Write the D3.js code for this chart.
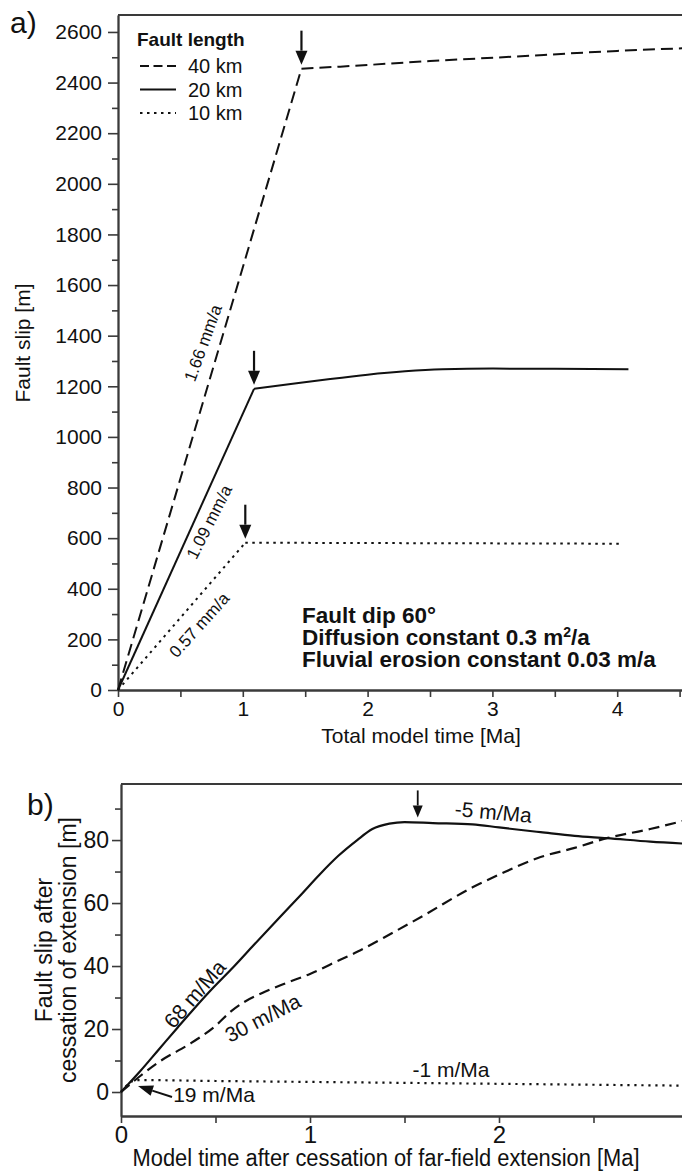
<!DOCTYPE html>
<html>
<head>
<meta charset="utf-8">
<script src="https://cdn.jsdelivr.net/npm/d3@7"></script>
<style>
  body { margin: 0; background: #fff; }
  text { font-family: "Liberation Sans", Arial, sans-serif; fill: #111; }
</style>
</head>
<body>
<svg id="chart" width="682" height="1173"></svg>
<script>
'use strict';

// ---- panel a: fault slip vs total model time ----
const fault40 = [[0, 0], [1.47, 2455], [1.78, 2463], [2.5, 2485], [3.15, 2502], [4.0, 2525], [4.6, 2537]];
const fault20 = [[0, 0], [1.09, 1190], [1.4, 1210], [1.7, 1229], [2.0, 1246], [2.3, 1259], [2.6, 1267], [3.0, 1270], [3.5, 1269], [4.09, 1267]];
const fault10 = [[0, 0], [1.02, 582], [2.5, 580], [4.02, 578]];
const legendLabels = ['40 km', '20 km', '10 km'];
const rateLabelsA = [
    { t: 0.68, v: 1371, angle: -70, text: '1.66 mm/a' },
    { t: 0.73, v: 664, angle: -63, text: '1.09 mm/a' },
    { t: 0.65, v: 257, angle: -48, text: '0.57 mm/a' }
];
const paramLines = ['Fault dip 60°', 'Diffusion constant 0.3 m', 'Fluvial erosion constant 0.03 m/a'];
const yTicksA = d3.range(0, 2601, 200);
const yMinorA = d3.range(100, 2700, 200);
const xTicksA = [0, 1, 2, 3, 4];
const xMinorA = [0.5, 1.5, 2.5, 3.5, 4.5];

// ---- panel b: slip after cessation of extension ----
const postSolid = [[0, 0], [0.1, 6.5], [0.2, 13.5], [0.3, 20.5], [0.47, 32], [0.6, 40], [0.7, 46.5], [0.84, 55.5], [0.95, 62.5],
    [1.05, 69], [1.15, 75], [1.25, 80], [1.33, 83.5], [1.42, 85.2], [1.5, 85.7], [1.65, 85.4], [1.86, 85], [2.0, 84],
    [2.22, 82.5], [2.4, 81.3], [2.57, 80.6], [2.8, 79.5], [3.0, 78.8]];
const postDashed = [[0, 0], [0.1, 5], [0.2, 9.5], [0.37, 15.5], [0.5, 21], [0.58, 25.5], [0.65, 28.5], [0.75, 31.5], [0.87, 34.5],
    [1.0, 37.5], [1.16, 42], [1.25, 44.5], [1.39, 49], [1.6, 56], [1.86, 65], [2.0, 69], [2.22, 74.6], [2.4, 77.5],
    [2.57, 80.6], [2.8, 83.5], [3.0, 86.5]];
const postDotted = [[0, 0], [0.08, 3.8], [0.5, 3.5], [1, 3.2], [1.5, 2.9], [2, 2.6], [2.5, 2.3], [3.0, 2.0]];
const rateLabelsB = [
    { t: 0.39, v: 31.1, angle: -49, text: '68 m/Ma' },
    { t: 0.75, v: 23.5, angle: -27, text: '30 m/Ma' },
    { t: 1.97, v: 88.9, angle: 5, text: '-5 m/Ma' },
    { t: 1.746, v: 7.0, angle: 0, text: '-1 m/Ma' },
    { t: 0.492, v: -0.95, angle: 0, text: '19 m/Ma' }
];
const yTicksB = [0, 20, 40, 60, 80];
const yMinorB = [10, 30, 50, 70, 90];
const xTicksB = [0, 1, 2];
const xMinorB = [0.5, 1.5, 2.5];

const svg = d3.select('#chart');
const ink = '#111';
const axisColor = '#3a3a3a';

function arrow(g, x1, y1, x2, y2, headLen, headW, width) {
    const a = Math.atan2(y2 - y1, x2 - x1);
    const bx = x2 - headLen * Math.cos(a), by = y2 - headLen * Math.sin(a);
    g.append('line')
        .attr('x1', x1).attr('y1', y1).attr('x2', bx).attr('y2', by)
        .attr('stroke', ink).attr('stroke-width', width);
    const nx = -Math.sin(a) * headW / 2, ny = Math.cos(a) * headW / 2;
    g.append('path')
        .attr('d', `M${x2},${y2}L${bx + nx},${by + ny}L${bx - nx},${by - ny}Z`)
        .attr('fill', ink);
}

function styleAxis(sel, size) {
    sel.selectAll('.domain').attr('stroke', axisColor).attr('stroke-width', 1.8);
    sel.selectAll('.tick line').attr('stroke', axisColor).attr('stroke-width', 1.6);
    sel.selectAll('.tick text').attr('fill', ink).style('font-size', size + 'px')
        .style('font-family', '"Liberation Sans", Arial, sans-serif');
}

// =================== panel a ===================
const xA = d3.scaleLinear().domain([0, 4.6]).range([118, 118 + 4.6 * 124.8]);
const yA = d3.scaleLinear().domain([0, 2667]).range([690, 15]);
const gA = svg.append('g');

gA.append('line').attr('x1', 118).attr('x2', 682).attr('y1', 15).attr('y2', 15)
    .attr('stroke', axisColor).attr('stroke-width', 1.8);

gA.append('g').attr('transform', 'translate(118,0)')
    .call(d3.axisLeft(yA).tickValues(yMinorA).tickFormat('').tickSize(6).tickSizeOuter(0))
    .call(s => styleAxis(s, 21));
gA.append('g').attr('transform', 'translate(118,0)')
    .call(d3.axisLeft(yA).tickValues(yTicksA).tickFormat(d3.format('d')).tickSize(10).tickPadding(6).tickSizeOuter(0))
    .call(s => styleAxis(s, 21));
gA.append('g').attr('transform', 'translate(0,690)')
    .call(d3.axisBottom(xA).tickValues(xMinorA).tickFormat('').tickSize(7).tickSizeOuter(0))
    .call(s => styleAxis(s, 21));
gA.append('g').attr('transform', 'translate(0,690)')
    .call(d3.axisBottom(xA).tickValues(xTicksA).tickFormat(d3.format('d')).tickSize(7).tickPadding(4).tickSizeOuter(0))
    .call(s => styleAxis(s, 21));

const lineA = d3.line().x(d => xA(d[0])).y(d => yA(d[1]));
const smoothA = d3.line().x(d => xA(d[0])).y(d => yA(d[1])).curve(d3.curveMonotoneX);
const seriesA = [
    { data: fault40, dash: '12,6' },
    { data: fault20, dash: null },
    { data: fault10, dash: '2.5,4.5' }
];
seriesA.forEach(s => {
    const head = s.data.slice(0, 2);
    const tail = s.data.slice(1);
    [lineA(head), smoothA(tail)].forEach(d => {
        gA.append('path').attr('d', d).attr('fill', 'none')
            .attr('stroke', ink).attr('stroke-width', 2)
            .attr('stroke-dasharray', s.dash);
    });
    const k = s.data[1];
    arrow(gA, xA(k[0]), yA(k[1]) - 38, xA(k[0]), yA(k[1]) - 4, 14, 12, 2.2);
});

rateLabelsA.forEach(l => {
    gA.append('text')
        .attr('transform', `translate(${xA(l.t)},${yA(l.v)}) rotate(${l.angle})`)
        .attr('text-anchor', 'middle').attr('dy', '0.35em')
        .style('font-size', '17px').text(l.text);
});

// legend
gA.append('text').attr('x', 137).attr('y', 46).style('font-size', '19px')
    .style('font-weight', 'bold').text('Fault length');
seriesA.forEach((s, i) => {
    const y = 66 + i * 23.5;
    gA.append('line').attr('x1', 140).attr('x2', 176).attr('y1', y).attr('y2', y)
        .attr('stroke', ink).attr('stroke-width', 2).attr('stroke-dasharray', i === 0 ? '9,4.5' : s.dash);
    gA.append('text').attr('x', 188).attr('y', y + 7).style('font-size', '20px').text(legendLabels[i]);
});

// parameter text
paramLines.forEach((t, i) => {
    const tx = gA.append('text').attr('x', 302).attr('y', 623 + i * 22)
        .style('font-size', '22.5px').style('font-weight', 'bold').text(t);
    if (i === 1) {
        tx.append('tspan').attr('dy', -8).style('font-size', '14px').text('2');
        tx.append('tspan').attr('dy', 8).text('/a');
    }
});

// axis titles and panel letter
gA.append('text').attr('x', 421).attr('y', 743).attr('text-anchor', 'middle')
    .style('font-size', '21px').text('Total model time [Ma]');
gA.append('text').attr('transform', 'translate(30,343) rotate(-90)').attr('text-anchor', 'middle')
    .style('font-size', '21px').text('Fault slip [m]');
gA.append('text').attr('x', 10).attr('y', 33).style('font-size', '30px').text('a)');

// =================== panel b ===================
const xB = d3.scaleLinear().domain([0, 3.1]).range([121, 121 + 3.1 * 189]);
const yB = d3.scaleLinear().domain([-7.62, 97.8]).range([1116, 784]);
const gB = svg.append('g');

gB.append('line').attr('x1', 121).attr('x2', 682).attr('y1', 784).attr('y2', 784)
    .attr('stroke', axisColor).attr('stroke-width', 1.8);

gB.append('g').attr('transform', 'translate(121,0)')
    .call(d3.axisLeft(yB).tickValues(yMinorB).tickFormat('').tickSize(6).tickSizeOuter(0))
    .call(s => styleAxis(s, 23));
gB.append('g').attr('transform', 'translate(121,0)')
    .call(d3.axisLeft(yB).tickValues(yTicksB).tickSize(9).tickPadding(3).tickSizeOuter(0))
    .call(s => styleAxis(s, 23));
gB.append('g').attr('transform', 'translate(0,1116)')
    .call(d3.axisBottom(xB).tickValues(xMinorB).tickFormat('').tickSize(7).tickSizeOuter(0))
    .call(s => styleAxis(s, 23));
gB.append('g').attr('transform', 'translate(0,1116)')
    .call(d3.axisBottom(xB).tickValues(xTicksB).tickFormat(d3.format('d')).tickSize(7).tickPadding(3).tickSizeOuter(0))
    .call(s => styleAxis(s, 24));

const lineB = d3.line().x(d => xB(d[0])).y(d => yB(d[1])).curve(d3.curveMonotoneX);
[
    { data: postSolid, dash: null },
    { data: postDashed, dash: '11,6' },
    { data: postDotted, dash: '2.2,4.8' }
].forEach(s => {
    gB.append('path').attr('d', lineB(s.data)).attr('fill', 'none')
        .attr('stroke', ink).attr('stroke-width', 2.2).attr('stroke-dasharray', s.dash);
});

// arrow at the peak of the solid curve and arrow to the dotted rate
const peak = [1.57, 85.6];
arrow(gB, xB(peak[0]), yB(peak[1]) - 32, xB(peak[0]), yB(peak[1]) - 5, 12, 10, 1.8);
const dotTip = [0.09, 1.9];
arrow(gB, xB(dotTip[0]) + 34, yB(dotTip[1]) + 11, xB(dotTip[0]), yB(dotTip[1]), 15, 11, 2);

rateLabelsB.forEach(l => {
    gB.append('text')
        .attr('transform', `translate(${xB(l.t)},${yB(l.v)}) rotate(${l.angle})`)
        .attr('text-anchor', 'middle').attr('dy', '0.35em')
        .style('font-size', '21px').text(l.text);
});

gB.append('text').attr('x', 386).attr('y', 1166).attr('text-anchor', 'middle')
    .attr('textLength', 507).attr('lengthAdjust', 'spacingAndGlyphs')
    .style('font-size', '23px').text('Model time after cessation of far-field extension [Ma]');
gB.append('text').attr('transform', 'translate(52,950) rotate(-90)').attr('text-anchor', 'middle')
    .style('font-size', '23px').text('Fault slip after');
gB.append('text').attr('transform', 'translate(76,950) rotate(-90)').attr('text-anchor', 'middle')
    .style('font-size', '23px').text('cessation of extension [m]');
gB.append('text').attr('x', 27).attr('y', 815).style('font-size', '30px').text('b)');
</script>
</body>
</html>
